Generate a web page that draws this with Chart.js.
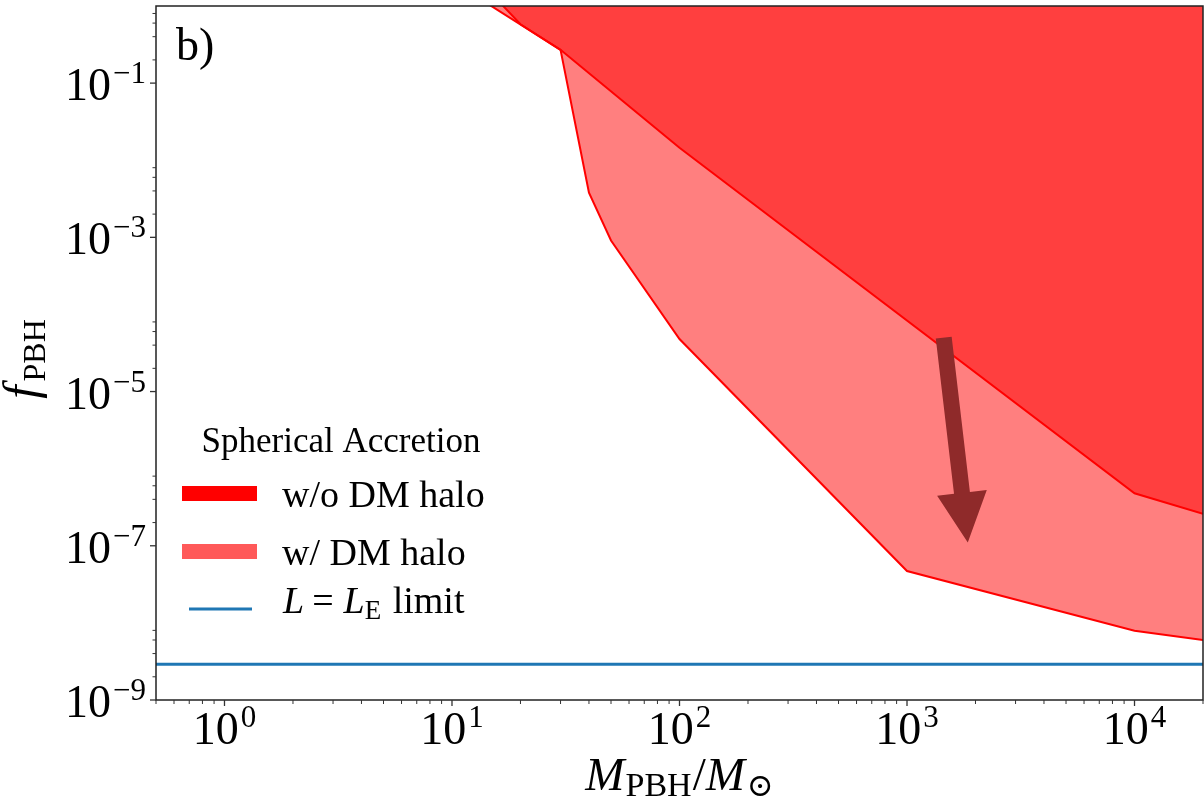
<!DOCTYPE html>
<html>
<head>
<meta charset="utf-8">
<script src="https://cdn.jsdelivr.net/npm/chart.js@4.4.1/dist/chart.umd.min.js"></script>
<style>
  html, body { margin: 0; padding: 0; background: #fff; }
</style>
</head>
<body>
<canvas id="fpbhChart" width="1204" height="806"></canvas>
<script>
// PBH mass (solar masses) and f_PBH bound
var massNoHalo = [10, 20, 30, 100, 10000, 20000];
var fNoHalo = [5.0, 0.58, 0.27, 1.45e-2, 4.8e-7, 2.6e-7];

var massHalo = [10, 30, 40, 50, 100, 1000, 10000, 20000];
var fHalo = [2.1, 0.27, 3.8e-3, 9.1e-4, 4.8e-5, 4.7e-8, 7.9e-9, 6.0e-9];

var massEdd = [0.5, 20000];
var fEdd = [2.9e-9, 2.9e-9];

// decade exponents that get a label
var xTickExps = [0, 1, 2, 3, 4];
var yTickExps = [-1, -3, -5, -7, -9];

// arrow "no halo -> with halo", in data units
var arrowFrom = [1450, 5e-5];
var arrowTo = [1850, 1.1e-7];

var SERIF = '"Liberation Serif", "DejaVu Serif", serif';
function roman(px) { return px + 'px ' + SERIF; }
function italic(px) { return 'italic ' + px + 'px ' + SERIF; }

function toPoints(xs, ys) {
  return xs.map(function (x, i) { return { x: x, y: ys[i] }; });
}

function drawRuns(ctx, runs, x, y, align) {
  var total = 0;
  runs.forEach(function (r) {
    ctx.font = r.font;
    r.w = ctx.measureText(r.t).width;
    total += r.w + (r.gap || 0);
  });
  var cx = x;
  if (align === 'center') cx = x - total / 2;
  if (align === 'right') cx = x - total;
  runs.forEach(function (r) {
    ctx.font = r.font;
    ctx.fillText(r.t, cx, y + (r.dy || 0));
    cx += r.w + (r.gap || 0);
  });
}

function expText(e) {
  return (e < 0 ? '\u2212' : '') + Math.abs(e);
}

var decorPlugin = {
  id: 'decor',
  afterDatasetsDraw: function (chart) {
    var ctx = chart.ctx;
    var xs = chart.scales.x, ys = chart.scales.y;
    var p0x = xs.getPixelForValue(arrowFrom[0]), p0y = ys.getPixelForValue(arrowFrom[1]);
    var p1x = xs.getPixelForValue(arrowTo[0]), p1y = ys.getPixelForValue(arrowTo[1]);
    var dx = p1x - p0x, dy = p1y - p0y;
    var len = Math.sqrt(dx * dx + dy * dy);
    var ux = dx / len, uy = dy / len, nx = -uy, ny = ux;
    var shaft = 8, head = 25, headLen = 50;
    var bx = p1x - ux * headLen, by = p1y - uy * headLen;
    ctx.save();
    ctx.fillStyle = '#8f2a2a';
    ctx.beginPath();
    ctx.moveTo(p0x + nx * shaft, p0y + ny * shaft);
    ctx.lineTo(bx + nx * shaft, by + ny * shaft);
    ctx.lineTo(bx + nx * head, by + ny * head);
    ctx.lineTo(p1x, p1y);
    ctx.lineTo(bx - nx * head, by - ny * head);
    ctx.lineTo(bx - nx * shaft, by - ny * shaft);
    ctx.lineTo(p0x - nx * shaft, p0y - ny * shaft);
    ctx.closePath();
    ctx.fill();
    ctx.restore();
  },
  afterDraw: function (chart) {
    var ctx = chart.ctx;
    var a = chart.chartArea;
    var xs = chart.scales.x, ys = chart.scales.y;
    ctx.save();
    ctx.fillStyle = '#000';
    ctx.textAlign = 'left';
    ctx.textBaseline = 'alphabetic';

    // frame
    ctx.strokeStyle = '#222';
    ctx.lineWidth = 1.5;
    ctx.strokeRect(a.left, a.top, a.right - a.left, a.bottom - a.top);

    // ticks
    ctx.strokeStyle = '#333';
    function tickX(v, l, w) {
      var p = xs.getPixelForValue(v);
      ctx.lineWidth = w;
      ctx.beginPath(); ctx.moveTo(p, a.bottom); ctx.lineTo(p, a.bottom + l); ctx.stroke();
    }
    function tickY(v, l, w) {
      var p = ys.getPixelForValue(v);
      ctx.lineWidth = w;
      ctx.beginPath(); ctx.moveTo(a.left, p); ctx.lineTo(a.left - l, p); ctx.stroke();
    }
    for (var d = -1; d <= 4; d++) {
      for (var k = 2; k <= 9; k++) {
        var v = k * Math.pow(10, d);
        if (v >= xs.min && v <= xs.max) tickX(v, 4, 1);
      }
    }
    xTickExps.forEach(function (e) { tickX(Math.pow(10, e), 6, 1.3); });
    yTickExps.forEach(function (e) {
      [2, 4, 6, 8].forEach(function (k) {
        var v = k * Math.pow(10, e);
        if (v <= ys.max) tickY(v, 3.5, 1);
      });
      tickY(Math.pow(10, e), 6, 1.3);
    });

    // tick labels
    yTickExps.forEach(function (e) {
      var p = ys.getPixelForValue(Math.pow(10, e));
      drawRuns(ctx, [
        { t: '10', font: roman(46), gap: 2 },
        { t: expText(e), font: roman(31), dy: -17 }
      ], a.left - 10, p + 17, 'right');
    });
    xTickExps.forEach(function (e) {
      var p = xs.getPixelForValue(Math.pow(10, e));
      drawRuns(ctx, [
        { t: '10', font: roman(46), gap: 2 },
        { t: expText(e), font: roman(31), dy: -17 }
      ], p, a.bottom + 44, 'center');
    });

    // axis titles
    drawRuns(ctx, [
      { t: 'M', font: italic(47), gap: 1 },
      { t: 'PBH', font: roman(34), dy: 6, gap: 1 },
      { t: '/', font: roman(47) },
      { t: 'M', font: italic(47), gap: 2 },
      { t: '\u2299', font: roman(32), dy: 6 }
    ], (a.left + a.right) / 2, a.bottom + 90, 'center');

    ctx.save();
    ctx.translate(37, (a.top + a.bottom) / 2 + 6);
    ctx.rotate(-Math.PI / 2);
    drawRuns(ctx, [
      { t: 'f', font: italic(48), gap: 4 },
      { t: 'PBH', font: roman(32), dy: 8 }
    ], 0, 0, 'center');
    ctx.restore();

    // panel tag
    ctx.font = roman(46);
    ctx.fillText('b)', a.left + 20, a.top + 54);

    // legend
    var ds = chart.data.datasets;
    var lx = a.left + 26;
    ctx.font = roman(35);
    ctx.textAlign = 'center';
    ctx.fillText('Spherical Accretion', a.left + 185, 452);
    ctx.textAlign = 'left';
    ctx.fillStyle = '#ff0000';
    ctx.fillRect(lx, 486, 75, 15);
    ctx.fillStyle = '#ff5959';
    ctx.fillRect(lx, 544, 75, 15);
    ctx.strokeStyle = ds[0].borderColor;
    ctx.lineWidth = 3;
    ctx.beginPath(); ctx.moveTo(lx + 7, 609); ctx.lineTo(lx + 70, 609); ctx.stroke();
    ctx.fillStyle = '#000';
    ctx.font = roman(38);
    ctx.fillText(ds[1].label, lx + 100, 507);
    ctx.fillText(ds[2].label, lx + 100, 565);
    drawRuns(ctx, [
      { t: 'L', font: italic(38), gap: 8 },
      { t: '=', font: roman(38), gap: 10 },
      { t: 'L', font: italic(38) },
      { t: 'E', font: roman(27), dy: 6, gap: 2 },
      { t: ' limit', font: roman(38) }
    ], lx + 101, 613, 'left');

    ctx.restore();
  }
};

var ctxF = document.getElementById('fpbhChart').getContext('2d');
var fChart = new Chart(ctxF, {
  type: 'line',
  data: {
    datasets: [{
        label: 'L = LE limit',
        data: toPoints(massEdd, fEdd),
        borderColor: '#1f77b4',
        borderWidth: 3,
        pointRadius: 0,
        fill: false
      },
      {
        label: 'w/o DM halo',
        data: toPoints(massNoHalo, fNoHalo),
        borderColor: '#ff0000',
        backgroundColor: 'rgba(255, 0, 0, 0.5)',
        borderWidth: 2,
        pointRadius: 0,
        fill: 'end'
      },
      {
        label: 'w/ DM halo',
        data: toPoints(massHalo, fHalo),
        borderColor: '#ff0000',
        backgroundColor: 'rgba(255, 0, 0, 0.5)',
        borderWidth: 2,
        pointRadius: 0,
        fill: 'end'
      }
    ]
  },
  options: {
    responsive: false,
    animation: false,
    devicePixelRatio: 1,
    events: [],
    layout: { padding: { top: 6, right: 1, left: 0, bottom: 0 } },
    plugins: {
      legend: { display: false },
      tooltip: { enabled: false }
    },
    scales: {
      x: {
        type: 'logarithmic',
        min: 0.5,
        max: 20000,
        grid: { display: false },
        border: { display: false },
        ticks: { display: false },
        afterFit: function (s) { s.height = 106; }
      },
      y: {
        type: 'logarithmic',
        min: 1e-9,
        max: 1,
        grid: { display: false },
        border: { display: false },
        ticks: { display: false },
        afterFit: function (s) { s.width = 156; }
      }
    }
  },
  plugins: [decorPlugin]
});
</script>
</body>
</html>
